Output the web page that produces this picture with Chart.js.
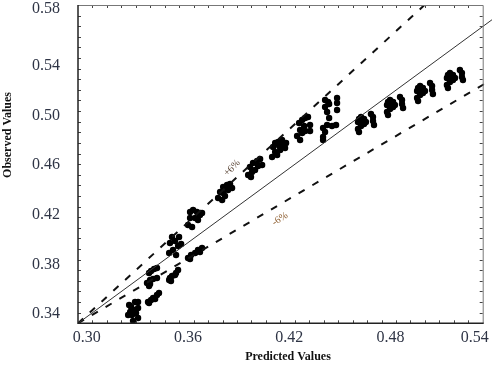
<!DOCTYPE html>
<html>
<head>
<meta charset="utf-8">
<script src="https://cdn.jsdelivr.net/npm/chart.js@4.4.1/dist/chart.umd.min.js"></script>
<style>
  html, body { margin: 0; padding: 0; background: #fff; }
  #wrap { width: 500px; height: 369px; }
</style>
</head>
<body>
<div id="wrap"><canvas id="chart"></canvas></div>
<script>
// predicted (x) / observed (y) pairs
const predicted = [
  0.3251, 0.3263, 0.3286, 0.3304, 0.3257, 0.3280, 0.3304, 0.3245, 0.3268, 0.3292, 0.3274, 0.3304,
  0.3363, 0.3369, 0.3381, 0.3393, 0.3405, 0.3416, 0.3428,
  0.3369, 0.3381, 0.3399, 0.3416, 0.3375, 0.3393, 0.3416, 0.3357, 0.3375, 0.3369,
  0.3488, 0.3493, 0.3505, 0.3523, 0.3529, 0.3541, 0.3499,
  0.3505, 0.3547, 0.3493, 0.3523, 0.3541, 0.3488, 0.3511, 0.3529, 0.3559,
  0.3600, 0.3618, 0.3642, 0.3659, 0.3683, 0.3612, 0.3671,
  0.3612, 0.3630, 0.3653, 0.3671, 0.3612, 0.3642, 0.3600, 0.3624, 0.3659, 0.3683,
  0.3808, 0.3831, 0.3849, 0.3790, 0.3808, 0.3837, 0.3778, 0.3802, 0.3861, 0.3819,
  0.3967, 0.3985, 0.4009, 0.4027, 0.3979, 0.3997, 0.3956, 0.3973, 0.4039, 0.4015,
  0.4104, 0.4116, 0.4134, 0.4157, 0.4163, 0.4116, 0.4128, 0.4146, 0.4175, 0.4181, 0.4098, 0.4140,
  0.4258, 0.4276, 0.4294, 0.4311, 0.4264, 0.4276, 0.4294, 0.4264, 0.4323, 0.4323, 0.4246, 0.4288,
  0.4412, 0.4430, 0.4436, 0.4483, 0.4483, 0.4412, 0.4424, 0.4483, 0.4436, 0.4424, 0.4453, 0.4477, 0.4400, 0.4412, 0.4400, 0.4400,
  0.4607, 0.4613, 0.4625, 0.4637, 0.4643, 0.4607, 0.4613, 0.4643, 0.4654, 0.4684, 0.4696, 0.4696, 0.4702, 0.4625,
  0.4779, 0.4785, 0.4797, 0.4809, 0.4815, 0.4779, 0.4785, 0.4815, 0.4826, 0.4856, 0.4868, 0.4868, 0.4874, 0.4797,
  0.4957, 0.4963, 0.4975, 0.4986, 0.4992, 0.4957, 0.4963, 0.4992, 0.5004, 0.5034, 0.5046, 0.5046, 0.5051, 0.4975,
  0.5134, 0.5140, 0.5152, 0.5164, 0.5170, 0.5134, 0.5140, 0.5170, 0.5182, 0.5211, 0.5223, 0.5223, 0.5229, 0.5152
];
const observed = [
  0.3473, 0.3456, 0.3497, 0.3497, 0.3416, 0.3432, 0.3448, 0.3392, 0.3392, 0.3408, 0.3344, 0.3368,
  0.3497, 0.3489, 0.3513, 0.3529, 0.3521, 0.3553, 0.3569,
  0.3731, 0.3747, 0.3763, 0.3771, 0.3674, 0.3682, 0.3690, 0.3650, 0.3642, 0.3626,
  0.3674, 0.3690, 0.3706, 0.3715, 0.3731, 0.3755, 0.3666,
  0.4021, 0.4021, 0.3973, 0.3989, 0.3948, 0.3892, 0.3916, 0.3876, 0.3965,
  0.3852, 0.3876, 0.3892, 0.3916, 0.3932, 0.3843, 0.3900,
  0.4223, 0.4239, 0.4223, 0.4198, 0.4174, 0.4174, 0.4118, 0.4102, 0.4158, 0.4215,
  0.4424, 0.4440, 0.4448, 0.4384, 0.4376, 0.4400, 0.4335, 0.4319, 0.4416, 0.4352,
  0.4586, 0.4618, 0.4634, 0.4650, 0.4545, 0.4561, 0.4521, 0.4505, 0.4602, 0.4594,
  0.4747, 0.4779, 0.4787, 0.4803, 0.4771, 0.4707, 0.4682, 0.4723, 0.4739, 0.4779, 0.4666, 0.4755,
  0.4940, 0.4965, 0.4981, 0.4989, 0.4884, 0.4860, 0.4876, 0.4803, 0.4924, 0.4876, 0.4836, 0.4916,
  0.5126, 0.5110, 0.5094, 0.5142, 0.5102, 0.5069, 0.5029, 0.5045, 0.4981, 0.4924, 0.4916, 0.4924, 0.4900, 0.4868, 0.4827, 0.4803,
  0.4948, 0.4973, 0.4989, 0.4957, 0.4973, 0.4892, 0.4868, 0.4932, 0.4948, 0.5013, 0.4989, 0.4957, 0.4924, 0.4916,
  0.5085, 0.5110, 0.5126, 0.5094, 0.5110, 0.5029, 0.5005, 0.5069, 0.5085, 0.5150, 0.5126, 0.5094, 0.5061, 0.5053,
  0.5198, 0.5223, 0.5239, 0.5206, 0.5223, 0.5142, 0.5118, 0.5182, 0.5198, 0.5263, 0.5239, 0.5206, 0.5174, 0.5166,
  0.5303, 0.5328, 0.5344, 0.5311, 0.5328, 0.5247, 0.5223, 0.5287, 0.5303, 0.5368, 0.5344, 0.5311, 0.5287, 0.5271
];

// reference lines (start, end)
const fitX = [0.2948, 0.5401];
const fitY = [0.3325, 0.5773];
const plusX = [0.2948, 0.5001];
const plusY = [0.3325, 0.5892];
const minusX = [0.2948, 0.5389];
const minusY = [0.3325, 0.5282];

const xRange = [0.2948, 0.5346];
const yRange = [0.3325, 0.5892];
const xTicks = [0.30, 0.36, 0.42, 0.48, 0.54];
const yTicks = [0.34, 0.38, 0.42, 0.46, 0.50, 0.54, 0.58];

const notes = [
  { text: '+6%', x: 0.3861, y: 0.4577, rot: -45, color: '#5a4536' },
  { text: '-6%', x: 0.4145, y: 0.4166, rot: -33, color: '#8b5a2b' }
];

const pairs = (xs, ys) => xs.map((v, i) => ({ x: v, y: ys[i] }));
const SERIF = '"Liberation Serif", "DejaVu Serif", serif';

// frame, inward ticks, tick labels, titles and the +/-6% notes
const framePlugin = {
  id: 'frame',
  afterDatasetsDraw(chart) {
    const { ctx, chartArea: a, scales: { x, y } } = chart;
    ctx.save();

    ctx.strokeStyle = '#444';
    ctx.lineWidth = 1;
    const nx = 28, ny = 30;
    ctx.beginPath();
    for (let i = 1; i < nx; i++) {
      const px = Math.round(a.left + i * (a.right - a.left) / nx) + 0.5;
      ctx.moveTo(px, a.bottom); ctx.lineTo(px, a.bottom - 3);
      ctx.moveTo(px, a.top); ctx.lineTo(px, a.top + 3);
    }
    for (let i = 1; i < ny; i++) {
      const py = Math.round(a.top + i * (a.bottom - a.top) / ny) + 0.5;
      ctx.moveTo(a.left, py); ctx.lineTo(a.left + 3, py);
      ctx.moveTo(a.right, py); ctx.lineTo(a.right - 3, py);
    }
    ctx.stroke();

    ctx.strokeStyle = '#777';
    ctx.beginPath();
    ctx.moveTo(a.left, a.top + 0.5); ctx.lineTo(a.right + 0.5, a.top + 0.5);
    ctx.lineTo(a.right + 0.5, a.bottom);
    ctx.stroke();
    ctx.strokeStyle = '#222';
    ctx.lineWidth = 1.5;
    ctx.beginPath();
    ctx.moveTo(a.left, a.top); ctx.lineTo(a.left, a.bottom); ctx.lineTo(a.right + 1, a.bottom);
    ctx.stroke();

    ctx.fillStyle = '#2e3445';
    ctx.font = '16px ' + SERIF;
    ctx.textAlign = 'center';
    ctx.textBaseline = 'middle';
    xTicks.forEach(v => {
      let px = x.getPixelForValue(v);
      if (px > a.right - 8) px = a.right - 8;
      ctx.fillText(v.toFixed(2), px, a.bottom + 14);
    });
    ctx.textAlign = 'right';
    yTicks.forEach(v => {
      let py = y.getPixelForValue(v);
      if (py - a.top < 14) py = a.top + 4;
      ctx.fillText(v.toFixed(2), a.left - 18, py);
    });

    ctx.fillStyle = '#111';
    ctx.font = 'bold 12px ' + SERIF;
    ctx.textAlign = 'center';
    ctx.fillText('Predicted Values', 288, 357);
    ctx.save();
    ctx.translate(8, 135);
    ctx.rotate(-Math.PI / 2);
    ctx.fillText('Observed Values', 0, 0);
    ctx.restore();

    ctx.font = '10px ' + SERIF;
    notes.forEach(n => {
      ctx.save();
      ctx.translate(x.getPixelForValue(n.x), y.getPixelForValue(n.y));
      ctx.rotate(n.rot * Math.PI / 180);
      ctx.fillStyle = n.color;
      ctx.fillText(n.text, 0, 0);
      ctx.restore();
    });
    ctx.restore();
  }
};

const lineSet = (data, width, dash, color) => ({
  data, showLine: true, pointRadius: 0, borderColor: color, borderWidth: width,
  borderDash: dash, fill: false, clip: { left: 0, top: 0, right: 20, bottom: 0 }
});

new Chart(document.getElementById('chart'), {
  type: 'scatter',
  data: {
    datasets: [
      lineSet(pairs(fitX, fitY), 1, [], '#333'),
      lineSet(pairs(plusX, plusY), 2, [7, 9], '#111'),
      lineSet(pairs(minusX, minusY), 2, [7, 9], '#111'),
      {
        data: pairs(predicted, observed),
        pointRadius: 3.2, pointBackgroundColor: '#000', pointBorderWidth: 0,
        showLine: false
      }
    ]
  },
  options: {
    responsive: true, maintainAspectRatio: false, animation: false,
    layout: { padding: { left: 78, top: 5, right: 17.3, bottom: 45.7 } },
    plugins: { legend: { display: false }, tooltip: { enabled: false } },
    scales: {
      x: { type: 'linear', display: false, min: xRange[0], max: xRange[1] },
      y: { type: 'linear', display: false, min: yRange[0], max: yRange[1] }
    }
  },
  plugins: [framePlugin]
});
</script>
</body>
</html>
